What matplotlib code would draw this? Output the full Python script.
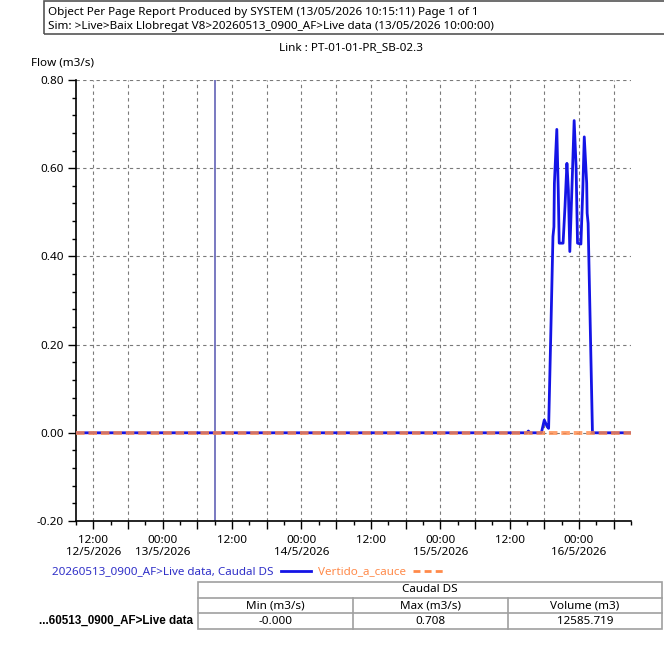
import numpy as np
import pandas as pd
import matplotlib
matplotlib.use("Agg")
import matplotlib.pyplot as plt
from matplotlib.lines import Line2D
from matplotlib.patches import Rectangle

plt.rcParams['font.family'] = ['Noto Sans', 'DejaVu Sans']

# flow series (m3/s)
flow_times = ["2026-05-12 09:00", "2026-05-15 15:00", "2026-05-15 15:15", "2026-05-15 15:30",
              "2026-05-15 17:30", "2026-05-15 18:00", "2026-05-15 18:30", "2026-05-15 18:45",
              "2026-05-15 19:10", "2026-05-15 19:30", "2026-05-15 19:40", "2026-05-15 19:45",
              "2026-05-15 20:10", "2026-05-15 20:25", "2026-05-15 20:35", "2026-05-15 21:15",
              "2026-05-15 21:35", "2026-05-15 21:55", "2026-05-15 22:10", "2026-05-15 22:25",
              "2026-05-15 22:45", "2026-05-15 23:10", "2026-05-15 23:30", "2026-05-15 23:45",
              "2026-05-16 00:20", "2026-05-16 00:40", "2026-05-16 00:55", "2026-05-16 01:20",
              "2026-05-16 01:25", "2026-05-16 01:35", "2026-05-16 02:20", "2026-05-16 09:00"]
flow_vals = [0.0, 0.0, 0.004, 0.0,
             0.0, 0.029, 0.014, 0.010,
             0.248, 0.445, 0.467, 0.566,
             0.688, 0.550, 0.430, 0.430,
             0.513, 0.611, 0.550, 0.411,
             0.542, 0.708, 0.604, 0.430,
             0.428, 0.553, 0.671, 0.566,
             0.498, 0.475, 0.0, 0.0]

vertido_times = ["2026-05-12 09:00", "2026-05-16 09:00"]
vertido_vals = [0.0, 0.0]

forecast_origin = "2026-05-13 09:00"
x_start, x_end = "2026-05-12 09:00", "2026-05-16 09:00"

tick_times = pd.date_range("2026-05-12 12:00", "2026-05-16 06:00", freq="6h")
tick_labels = ["12:00\n12/5/2026", "", "00:00\n13/5/2026", "", "12:00", "", "00:00\n14/5/2026", "",
               "12:00", "", "00:00\n15/5/2026", "", "12:00", "", "00:00\n16/5/2026", ""]

stat_cols = ["Min (m3/s)", "Max (m3/s)", "Volume (m3)"]
stat_vals = ["-0.000", "0.708", "12585.719"]

blue = "#1414e6"
orange = "#ff8a4a"
fs = 8.4

fig = plt.figure(figsize=(6.64, 6.54), dpi=100)
ax = fig.add_axes([76/664, 1 - 521/654, 555/664, 441/654])

t_flow = pd.to_datetime(flow_times)
t_vert = pd.to_datetime(vertido_times)
ax.plot(t_flow, flow_vals, color=blue, lw=2, zorder=3)
ax.plot(t_vert, vertido_vals, color=orange, lw=2.8, ls=(0, (2.2, 1.0)), alpha=0.8, zorder=4)
ax.axvline(pd.Timestamp(forecast_origin), color="#5555b0", lw=1.1, zorder=2)

ax.set_xlim(pd.Timestamp(x_start), pd.Timestamp(x_end))
ax.set_ylim(-0.2, 0.8)
ax.set_yticks(np.arange(-0.2, 0.81, 0.2))
ax.set_yticklabels(["-0.20", "0.00", "0.20", "0.40", "0.60", "0.80"])
ax.set_yticks(np.arange(-0.2, 0.81, 0.04), minor=True)
ax.set_xticks(tick_times)
ax.set_xticklabels(tick_labels)
ax.set_xticks(pd.date_range("2026-05-12 09:00", "2026-05-16 09:00", freq="3h"), minor=True)

ax.grid(True, which="major", color="#7a7a7a", ls=(0, (3, 3)), lw=0.8)
ax.tick_params(which="major", length=6, width=1, labelsize=fs, colors="black", pad=3)
ax.tick_params(which="minor", length=3, width=1)
ax.tick_params(axis="x", pad=4)
for s in ["top", "right"]:
    ax.spines[s].set_visible(False)
for s in ["left", "bottom"]:
    ax.spines[s].set_linewidth(1.2)

fig.text(31/664, 1 - 63/654, "Flow (m3/s)", fontsize=fs, va="center", ha="left")
fig.text(351/664, 1 - 48/654, "Link : PT-01-01-PR_SB-02.3", fontsize=fs, va="center", ha="center")

# report header box
fig.patches.append(Rectangle((44/664, 1 - 34/654), 640/664, 33/654, transform=fig.transFigure,
                             fill=False, ec="#555555", lw=1.2))
fig.text(48/664, 1 - 13/654, "Object Per Page Report Produced by SYSTEM (13/05/2026 10:15:11) Page 1 of 1",
         fontsize=fs, va="center", ha="left")
fig.text(48/664, 1 - 26/654, "Sim: >Live>Baix Llobregat V8>20260513_0900_AF>Live data (13/05/2026 10:00:00)",
         fontsize=fs, va="center", ha="left")

# legend
handles = [Line2D([], [], color=blue, lw=2),
           Line2D([], [], color=orange, lw=2, ls=(0, (2.5, 1.5)))]
leg = fig.legend(handles, ["20260513_0900_AF>Live data, Caudal DS", "Vertido_a_cauce"],
                 loc="center left", bbox_to_anchor=(52/664, 1 - 572/654), ncol=2, frameon=False,
                 markerfirst=False, fontsize=fs, handlelength=2.6, handletextpad=0.6,
                 columnspacing=0.6, borderpad=0, borderaxespad=0)
for txt, c in zip(leg.get_texts(), ["#3030c8", orange]):
    txt.set_color(c)

# statistics table
tx0, tx1 = 198/664, 662/664
row_y = [1 - 582/654, 1 - 598/654, 1 - 613/654, 1 - 629/654]
col_x = [tx0, 353/664, 508/664, tx1]
lc = "#a0a0a0"
fig.patches.append(Rectangle((tx0, row_y[3]), tx1 - tx0, row_y[0] - row_y[3], transform=fig.transFigure,
                             fill=False, ec=lc, lw=1.2))
for y in row_y[1:3]:
    fig.add_artist(Line2D([tx0, tx1], [y, y], transform=fig.transFigure, color=lc, lw=1.2))
for x in col_x[1:3]:
    fig.add_artist(Line2D([x, x], [row_y[1], row_y[3]], transform=fig.transFigure, color=lc, lw=1.2))
fig.text((tx0 + tx1) / 2, (row_y[0] + row_y[1]) / 2, "Caudal DS", fontsize=fs, ha="center", va="center")
for i in range(3):
    xc = (col_x[i] + col_x[i + 1]) / 2
    fig.text(xc, (row_y[1] + row_y[2]) / 2, stat_cols[i], fontsize=fs, ha="center", va="center")
    fig.text(xc, (row_y[2] + row_y[3]) / 2, stat_vals[i], fontsize=fs, ha="center", va="center")
fig.text(193/664, (row_y[2] + row_y[3]) / 2, "...60513_0900_AF>Live data", fontsize=fs,
         ha="right", va="center", fontweight="bold", family=["Liberation Sans", "DejaVu Sans"])

fig.savefig("out.png", dpi=100)
